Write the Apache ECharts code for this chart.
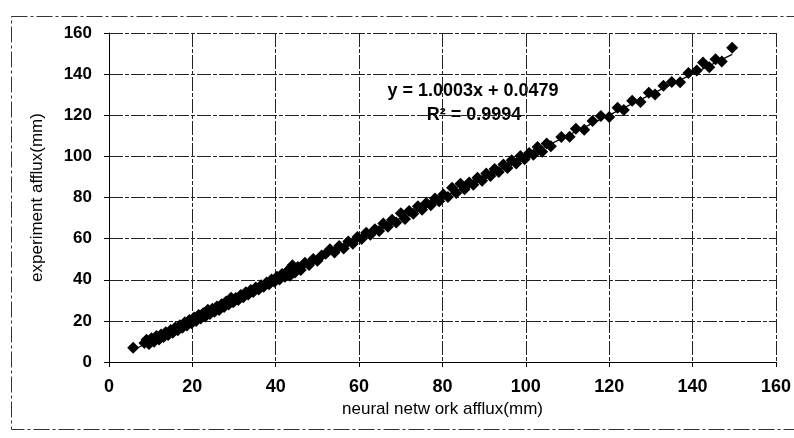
<!DOCTYPE html>
<html>
<head>
<meta charset="utf-8">
<script src="https://cdn.jsdelivr.net/npm/echarts@6/dist/echarts.min.js"></script>
<style>
  html, body { margin: 0; padding: 0; background: #fff; }
  #chart { width: 794px; height: 438px; }
</style>
</head>
<body>
<div id="chart"></div>
<script>
"use strict";
// neural network afflux (x) vs experiment afflux (y), mm
const nnX = [5.8, 8.5, 9.0, 9.6, 10.2, 10.8, 11.4, 12.0, 12.5, 13.1, 13.6, 14.2, 14.8, 15.3, 15.9, 16.5,
  17.0, 17.6, 18.2, 18.7, 19.3, 19.8, 20.4, 20.9, 21.5, 22.0, 22.6, 23.1, 23.7, 24.2, 24.8, 25.3,
  25.9, 26.4, 27.0, 27.6, 28.1, 28.7, 29.3, 29.8, 30.4, 31.0, 31.6, 32.2, 32.8, 33.4, 34.0, 34.6,
  35.2, 35.9, 36.5, 37.1, 37.8, 38.4, 39.0, 39.7, 40.3, 40.9, 41.5, 42.2, 42.8, 43.4, 44.0, 44.6,
  45.3, 46.0, 47.0, 48.0, 49.0, 50.0, 51.0,
  52.0, 53.0, 54.1, 55.2, 56.3, 57.4, 58.5, 59.6, 60.6, 61.7, 62.7, 63.8, 64.8, 65.8, 66.9, 67.9,
  68.9, 70.0, 71.0, 72.0, 73.0, 74.1, 75.1, 76.1, 77.2, 78.2, 79.2, 80.2, 81.3, 82.3, 83.3, 84.3,
  85.3, 86.4, 87.4, 88.4, 89.5, 90.5, 91.5, 92.5, 93.5, 94.6, 95.6, 96.6, 97.7, 98.7, 99.7, 100.8,
  101.8, 102.8, 103.9, 105.0, 106.0,
  108.5, 110.5, 112.0, 114.0, 116.0, 118.0, 120.0, 122.0, 123.5, 125.5, 127.5, 129.5, 131.0, 133.0,
  135.0, 137.0, 139.0, 141.0, 142.5, 144.0, 145.5, 147.0, 149.5];
const expY = [6.9, 9.2, 10.8, 8.8, 11.5, 9.9, 12.6, 11.0, 13.4, 12.2, 14.5, 13.1, 15.6, 14.2, 16.8, 15.4,
  17.9, 16.6, 19.3, 17.8, 20.4, 18.9, 21.6, 20.0, 22.8, 21.2, 23.7, 22.1, 25.4, 23.3, 25.9, 24.4,
  27.0, 25.3, 28.1, 26.7, 29.4, 28.0, 31.2, 29.1, 31.1, 30.2, 32.6, 31.5, 33.9, 32.8, 35.0, 34.1,
  36.2, 35.3, 37.3, 36.6, 38.7, 37.8, 40.1, 39.0, 41.5, 40.1, 42.8, 41.4, 44.3, 42.0, 47.0, 43.5,
  46.2, 44.7, 48.3, 47.2, 50.1, 49.3, 51.8,
  52.6, 54.8, 53.3, 56.4, 55.2, 58.6, 57.5, 60.8, 59.8, 62.9, 61.9, 64.6, 63.7, 67.4, 65.8, 69.2,
  67.8, 72.4, 69.6, 73.4, 72.1, 75.7, 74.0, 77.3, 76.2, 79.5, 78.2, 81.4, 80.2, 84.7, 82.2, 86.7,
  84.0, 87.3, 86.2, 89.6, 88.1, 91.7, 90.4, 93.8, 92.4, 96.0, 94.3, 98.1, 96.5, 100.2, 98.6, 101.6,
  100.8, 104.5, 102.2, 106.3, 104.9,
  109.4, 109.6, 113.4, 113.0, 117.2, 119.6, 119.1, 123.6, 122.6, 127.0, 126.4, 131.0, 130.1, 134.4,
  136.2, 136.1, 140.6, 141.8, 145.6, 143.4, 147.2, 146.2, 152.8];
// linear trendline end points (y = 1.0003x + 0.0479)
const trendX = [5.8, 149.5];
const trendY = [5.85, 149.59];
const eqText = "y = 1.0003x + 0.0479";
const r2Text = "R² = 0.9994";

const FONT = "Arial, 'Liberation Sans', sans-serif";
const INK = "#000";
const chart = echarts.init(document.getElementById("chart"), null, { renderer: "canvas" });

const axisCommon = {
  type: "value", min: 0, max: 160, interval: 20,
  axisLine: { show: true, lineStyle: { color: INK, width: 1 } },
  axisTick: { show: true, inside: false, length: 5, lineStyle: { color: INK } },
  axisLabel: { color: INK, fontFamily: FONT, fontWeight: "bold", fontSize: 17 },
  splitLine: { show: true, lineStyle: { color: "#222", width: 1, type: [14, 2, 4, 2] } },
  nameLocation: "middle",
  nameTextStyle: { color: INK, fontFamily: FONT, fontSize: 17 },
};

chart.setOption({
  animation: false,
  backgroundColor: "#fff",
  grid: { left: 109, right: 12, top: 33, bottom: 76 },
  xAxis: { ...axisCommon, name: "neural netw ork afflux(mm)", nameGap: 38,
    axisLabel: { ...axisCommon.axisLabel, fontSize: 18, margin: 16 } },
  yAxis: { ...axisCommon, name: "experiment afflux(mm)", nameGap: 63,
    axisLabel: { ...axisCommon.axisLabel, margin: 17 } },
  graphic: [
    { type: "rect", left: 9, top: 14, silent: true,
      shape: { width: 800, height: 413 },
      style: { fill: "none", stroke: "#333", lineWidth: 1, lineDash: [16, 3, 3, 3] } },
    { type: "text", x: 473, y: 91, silent: true,
      style: { text: eqText, fill: INK, font: "bold 18px " + FONT, textAlign: "center", textVerticalAlign: "middle" } },
    { type: "text", x: 474, y: 115, silent: true,
      style: { text: r2Text, fill: INK, font: "bold 18px " + FONT, textAlign: "center", textVerticalAlign: "middle" } },
  ],
  series: [
    { name: "trend", type: "line", data: trendX.map((x, i) => [x, trendY[i]]),
      showSymbol: false, lineStyle: { color: INK, width: 1.2 }, z: 3 },
    { name: "afflux", type: "scatter", data: nnX.map((x, i) => [x, expY[i]]),
      symbol: "diamond", symbolSize: 12, itemStyle: { color: "#000", opacity: 1 }, z: 2 },
  ],
});
</script>
</body>
</html>
